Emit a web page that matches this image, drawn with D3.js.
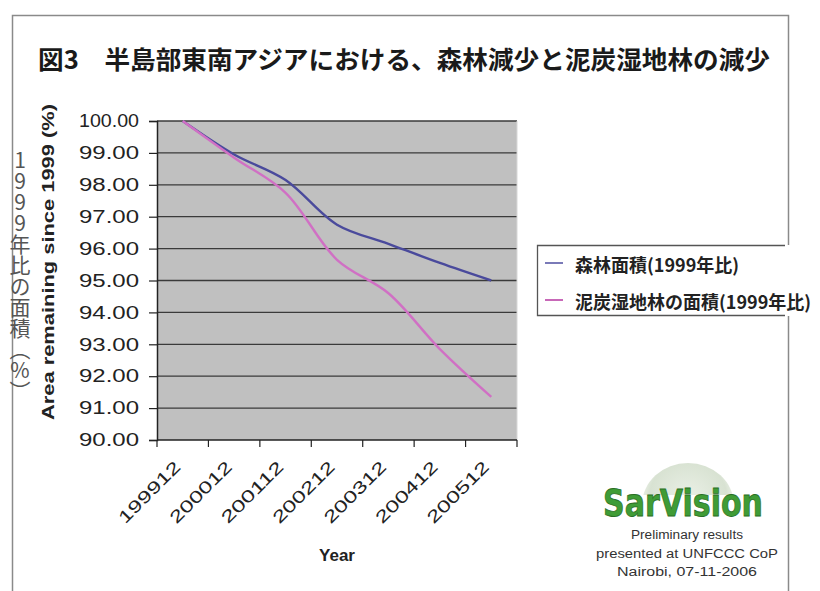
<!DOCTYPE html>
<html>
<head>
<meta charset="utf-8">
<script src="https://cdn.jsdelivr.net/npm/d3@7/dist/d3.min.js"></script>
<style>
  html, body { margin: 0; padding: 0; background: #fff; }
  svg { display: block; }
</style>
</head>
<body>
<svg id="chart" width="820" height="591"></svg>
<script>
// Years (December of each year) on the category axis
const categories = ["199912", "200012", "200112", "200212", "200312", "200412", "200512"];
// Forest area remaining, % of 1999
const forestArea = [100.0, 98.95, 98.15, 96.75, 96.15, 95.55, 95.0];
// Peat swamp forest area remaining, % of 1999
const peatArea = [100.0, 98.85, 97.75, 95.65, 94.6, 92.85, 91.35];
// Value axis ticks
const yTicks = [90, 91, 92, 93, 94, 95, 96, 97, 98, 99, 100];
const seriesNames = ["森林面積(1999年比)", "泥炭湿地林の面積(1999年比)"];
const titleText = "図3　半島部東南アジアにおける、森林減少と泥炭湿地林の減少";

const svg = d3.select("#chart");
const plot = { left: 157, right: 517, top: 121, bottom: 440 };

const x = d3.scaleBand().domain(categories).range([plot.left, plot.right]).padding(0);
const y = d3.scaleLinear().domain([90, 100]).range([plot.bottom, plot.top]);

// outer frame
svg.append("rect")
  .attr("x", 12.5).attr("y", 15.5).attr("width", 776).attr("height", 600)
  .attr("fill", "#fff").attr("stroke", "#8a8a8a").attr("stroke-width", 1.5);

// title
svg.append("text")
  .attr("x", 38).attr("y", 69)
  .attr("textLength", 732).attr("lengthAdjust", "spacingAndGlyphs")
  .attr("font-family", "'Noto Sans CJK JP', sans-serif")
  .attr("font-weight", 700).attr("font-size", 25).attr("fill", "#1a1a1a")
  .text(titleText);

// plot background
svg.append("rect")
  .attr("x", plot.left).attr("y", plot.top)
  .attr("width", plot.right - plot.left).attr("height", plot.bottom - plot.top)
  .attr("fill", "#c0c0c0");

// horizontal gridlines
svg.append("g").selectAll("line").data(yTicks.filter(d => d > 90)).join("line")
  .attr("x1", plot.left).attr("x2", plot.right)
  .attr("y1", d => y(d)).attr("y2", d => y(d))
  .attr("stroke", "#3a3a3a").attr("stroke-width", 1.3);

// right edge of the plot area
svg.append("line")
  .attr("x1", plot.right).attr("x2", plot.right)
  .attr("y1", plot.top).attr("y2", plot.bottom)
  .attr("stroke", "#d8d8d8").attr("stroke-width", 1);

// y axis
const yAxis = svg.append("g")
  .attr("transform", `translate(${plot.left},0)`)
  .call(d3.axisLeft(y).tickValues(yTicks).tickFormat(d3.format(".2f")).tickSize(8).tickPadding(10));
yAxis.select(".domain").attr("stroke", "#222").attr("stroke-width", 1.5);
yAxis.selectAll(".tick line").attr("stroke", "#222").attr("stroke-width", 1.2);
yAxis.selectAll(".tick text")
  .attr("font-family", "'Liberation Sans', Arial, sans-serif")
  .attr("font-size", 18).attr("fill", "#222")
  .attr("textLength", 60).attr("lengthAdjust", "spacingAndGlyphs");

// x axis line and category boundary ticks
svg.append("line")
  .attr("x1", plot.left).attr("x2", plot.right)
  .attr("y1", plot.bottom).attr("y2", plot.bottom)
  .attr("stroke", "#222").attr("stroke-width", 1.5);
const boundaries = categories.map(c => x(c)).concat([x(categories[categories.length - 1]) + x.bandwidth()]);
svg.append("g").selectAll("line").data(boundaries).join("line")
  .attr("x1", d => d).attr("x2", d => d)
  .attr("y1", plot.bottom).attr("y2", plot.bottom + 7)
  .attr("stroke", "#222").attr("stroke-width", 1.2);

// rotated category labels
svg.append("g").selectAll("text").data(categories).join("text")
  .attr("transform", d => `translate(${x(d) + x.bandwidth() / 2 - 1},${plot.bottom + 28}) rotate(-45)`)
  .attr("text-anchor", "end")
  .attr("font-family", "'Liberation Sans', Arial, sans-serif")
  .attr("font-size", 17).attr("fill", "#222")
  .attr("textLength", 80).attr("lengthAdjust", "spacingAndGlyphs")
  .text(d => d);

// axis titles
svg.append("text")
  .attr("x", 337).attr("y", 561)
  .attr("text-anchor", "middle")
  .attr("font-family", "'Liberation Sans', Arial, sans-serif")
  .attr("font-weight", 700).attr("font-size", 17).attr("fill", "#222")
  .text("Year");

svg.append("text")
  .attr("transform", "translate(54,262) rotate(-90)")
  .attr("text-anchor", "middle")
  .attr("font-family", "'Liberation Sans', Arial, sans-serif")
  .attr("font-weight", 700).attr("font-size", 17).attr("fill", "#222")
  .attr("textLength", 316).attr("lengthAdjust", "spacingAndGlyphs")
  .text("Area remaining since 1999 (%)");

svg.append("text")
  .attr("x", 20).attr("y", 150)
  .style("writing-mode", "vertical-rl")
  .style("text-orientation", "upright")
  .attr("font-family", "'Noto Sans CJK JP', sans-serif")
  .attr("font-size", 21).attr("fill", "#555")
  .text("1999年比の面積（%）");

// series lines
const colors = ["#4a4a9c", "#d070c4"];
const legendColors = ["#7a7ab8", "#c868b8"];
const line = d3.line()
  .x((d, i) => x(categories[i]) + x.bandwidth() / 2)
  .y(d => y(d))
  .curve(d3.curveCatmullRom.alpha(0.5));

[forestArea, peatArea].forEach((s, k) => {
  svg.append("path")
    .attr("d", line(s))
    .attr("fill", "none")
    .attr("stroke", colors[k])
    .attr("stroke-width", 2.4)
    .attr("stroke-linejoin", "round");
});

// legend box runs past the chart frame on the right
const lg = svg.append("g");
lg.append("rect")
  .attr("x", 537).attr("y", 245).attr("width", 283).attr("height", 71)
  .attr("fill", "#fff");
lg.append("path")
  .attr("d", "M785,245.5 H537.5 V315.5 H785")
  .attr("fill", "none").attr("stroke", "#555").attr("stroke-width", 1.3);
seriesNames.forEach((name, k) => {
  const ly = 263 + k * 37;
  lg.append("line")
    .attr("x1", 545).attr("x2", 563).attr("y1", ly).attr("y2", ly)
    .attr("stroke", legendColors[k]).attr("stroke-width", 2);
  lg.append("text")
    .attr("x", 575).attr("y", ly + 9)
    .attr("font-family", "'Noto Sans CJK JP', sans-serif")
    .attr("font-weight", 700).attr("font-size", 18).attr("fill", "#222")
    .text(name);
});

// SarVision logo
const defs = svg.append("defs");
const grad = defs.append("radialGradient").attr("id", "globe").attr("cx", "50%").attr("cy", "40%").attr("r", "60%");
grad.append("stop").attr("offset", "0%").attr("stop-color", "#eaf0e6");
grad.append("stop").attr("offset", "70%").attr("stop-color", "#d8e2d2");
grad.append("stop").attr("offset", "100%").attr("stop-color", "#ffffff");
defs.append("clipPath").attr("id", "globeClip")
  .append("rect").attr("x", 600).attr("y", 455).attr("width", 180).attr("height", 40);
svg.append("ellipse")
  .attr("cx", 688).attr("cy", 505).attr("rx", 46).attr("ry", 42)
  .attr("fill", "url(#globe)").attr("clip-path", "url(#globeClip)");

svg.append("text")
  .attr("x", 603).attr("y", 516)
  .attr("textLength", 160).attr("lengthAdjust", "spacingAndGlyphs")
  .attr("font-family", "'DejaVu Sans', sans-serif")
  .attr("font-weight", 700).attr("font-size", 38)
  .attr("fill", "#3f9c36").attr("stroke", "#2a6e24").attr("stroke-width", 0.8)
  .text("SarVision");

const notes = ["Preliminary results", "presented at UNFCCC  CoP", "Nairobi, 07-11-2006"];
const noteLen = [112, 182, 140];
svg.append("g").selectAll("text").data(notes).join("text")
  .attr("x", 687).attr("y", (d, i) => 539 + i * 18.5)
  .attr("text-anchor", "middle")
  .attr("textLength", (d, i) => noteLen[i]).attr("lengthAdjust", "spacingAndGlyphs")
  .attr("font-family", "'Liberation Sans', Arial, sans-serif")
  .attr("font-size", 12.5).attr("fill", "#333")
  .text(d => d);
</script>
</body>
</html>
